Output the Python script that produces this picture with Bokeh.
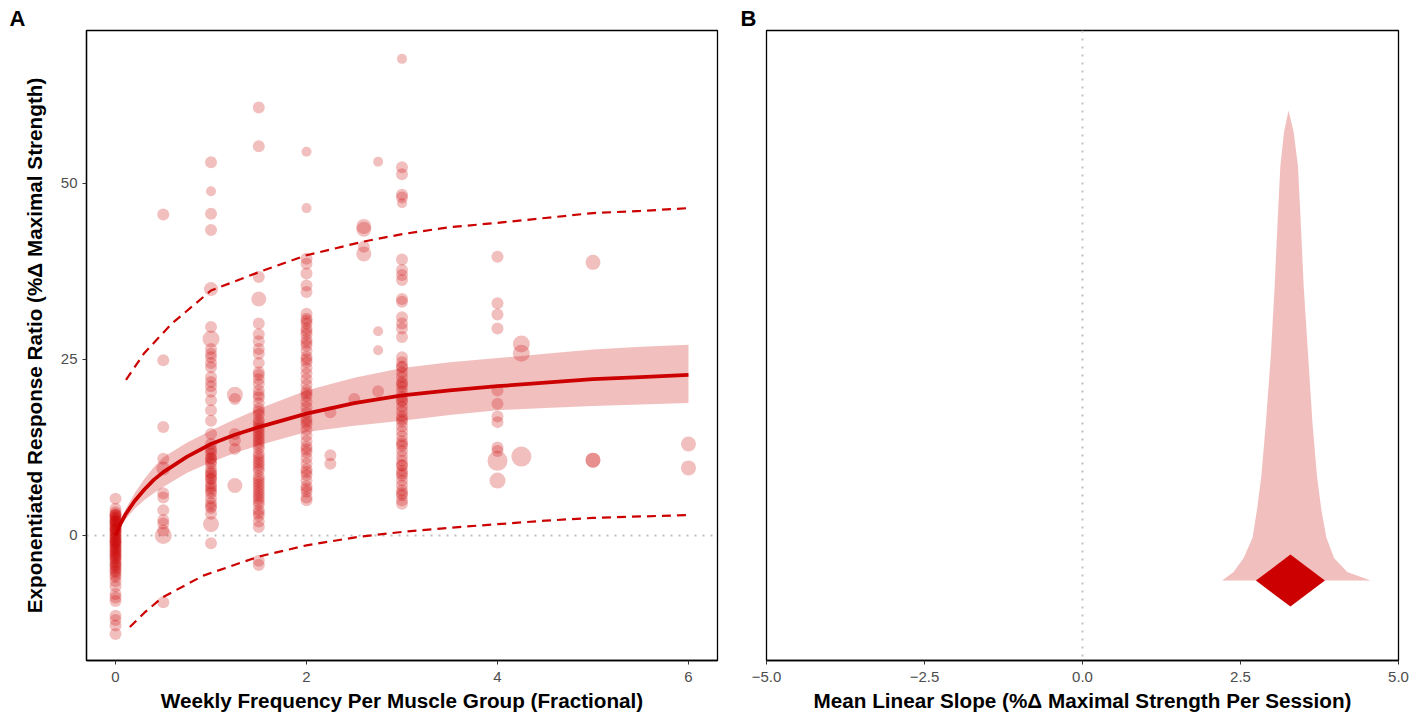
from bokeh.plotting import figure
from bokeh.layouts import row
from bokeh.models import Range1d, Span, FixedTicker
from bokeh.embed import file_html
from bokeh.resources import INLINE

RED = "#CC0000"
FONT = "Liberation Sans"

# ---------------- Panel A data ----------------
# regular-size observations per frequency column
col_0 = [5.2, 3.8, 3.3, 2.8, 2.4, 2.0, 1.6, 1.2, 0.8, 0.4, 0.0, -0.4, -0.8, -1.2, -1.6, -2.0,
         -2.4, -2.8, -3.2, -3.7, -4.2, -4.7, -5.2, -5.9, -6.5, -7.2, -8.3, -8.8, -9.3, -11.4,
         -12.0, -12.8, -14.0, 2.0, 1.0, 0.2, -1.0, -2.2, -3.0, -4.0, -0.6, 1.4, 2.6,
         3.0, 2.2, 1.8, 0.6, -0.2, -1.4, -1.8, -2.6, -3.4, -4.4, -5.0, -5.6, 0.9, -0.9, 2.9]
col_05 = [45.6, 24.9, 15.4, 10.9, 6.0, 5.4, 3.6, 2.2, 1.7, 0.7, -9.5]
col_1 = [53.0, 45.7, 43.4, 29.6, 26.5, 25.3, 23.9, 21.8, 20.4, 19.2, 17.8, 16.3, 14.4, 13.0,
         12.3, 11.6, 10.9, 10.2, 9.5, 8.8, 8.1, 7.4, 6.7, 6.0, 5.3, 4.6, 3.9, 3.1, -1.1,
         12.0, 10.5, 9.0, 8.0, 7.0, 25.8, 24.5, 22.5, 4.2, 11.0, 8.5, 6.3, 21.2]
col_125 = [19.4, 14.4, 13.5, 12.3]
col_15 = [60.8, 55.3, 36.7, 30.1, 28.6, 27.6, 26.5, 25.8, 24.5, 23.2, 22.2, 21.5, 20.6, 19.6,
          18.8, 18.0, 17.2, 16.4, 15.6, 14.8, 14.0, 13.2, 12.4, 11.6, 10.8, 10.0, 9.2, 8.4, 7.6,
          6.8, 6.0, 5.2, 4.4, 3.6, 2.8, 2.0, 1.2, -3.6, -4.2, 17.6, 16.0, 14.4, 12.8, 11.2, 9.6,
          8.0, 6.4, 4.8, 3.2, 20.0, 22.8, 15.2, 13.6, 10.4, 7.2, 5.6]
col_2 = [39.3, 38.6, 37.2, 35.5, 34.6, 31.5, 30.8, 30.1, 29.4, 28.6, 27.8, 27.0, 26.2, 25.4,
         24.6, 23.8, 23.0, 22.2, 21.4, 20.6, 19.8, 19.0, 18.2, 17.4, 16.6, 15.8, 15.0, 14.2, 13.4,
         12.6, 11.8, 11.0, 10.2, 9.4, 8.6, 7.8, 7.0, 6.2, 5.4, 5.0, 30.5, 29.0, 27.4, 25.0, 20.2,
         16.2, 12.2, 9.0, 6.6]
col_225 = [17.5, 11.4, 10.2]
col_25 = [19.4]
col_26 = [41.0]
col_275 = [20.5]
col_3 = [52.3, 51.3, 48.4, 48.0, 39.2, 37.7, 37.0, 36.3, 33.6, 33.2, 31.0, 30.1, 29.4, 28.2,
         25.3, 24.6, 23.9, 23.2, 22.5, 21.8, 21.1, 20.4, 19.7, 19.0, 18.3, 17.6, 16.9, 16.2, 15.5,
         14.8, 14.1, 13.4, 12.7, 12.0, 11.3, 10.6, 9.9, 9.2, 8.5, 7.8, 7.1, 6.4, 5.7, 5.0, 4.5,
         24.0, 21.5, 19.2, 16.5, 13.0, 10.0, 8.8, 6.0]
col_4 = [39.6, 33.0, 31.4, 29.4, 20.6, 18.7, 16.9, 16.1, 12.5, 12.0]

columns = [(0.0, col_0), (0.5, col_05), (1.0, col_1), (1.25, col_125), (1.5, col_15),
           (2.0, col_2), (2.25, col_225), (2.5, col_25), (2.6, col_26), (2.75, col_275),
           (3.0, col_3), (4.0, col_4)]

# small-weight observations
small_freq = [3.0, 2.0, 2.0, 2.75, 2.75, 2.75, 1.0, 3.0]
small_ratio = [67.7, 54.5, 46.5, 53.1, 29.0, 26.3, 48.9, 47.2]

# large-weight observations
big_freq = [0.5, 0.5, 1.0, 1.0, 1.0, 1.25, 1.25, 1.5, 2.6, 2.6, 2.6, 4.0, 4.0,
            4.25, 4.25, 4.25, 5.0, 5.0, 5.0, 6.0, 6.0]
big_ratio = [0.0, 9.5, 1.6, 27.9, 35.0, 20.0, 7.1, 33.6, 43.9, 43.5, 40.0, 10.6, 7.8,
             27.2, 25.9, 11.2, 38.8, 10.7, 10.7, 13.0, 9.6]
big_weight = [17, 14, 16, 17, 14, 16, 15, 15, 15, 15, 15, 20, 16,
              17, 17, 20, 15, 15, 15, 15, 15]

# fitted curve with confidence band
fit_x = [0, 0.05, 0.1, 0.2, 0.3, 0.4, 0.5, 0.75, 1, 1.25, 1.5, 2, 2.5, 3, 3.5, 4, 4.5, 5, 5.5, 6]
fit_y = [0, 1.6, 2.9, 4.9, 6.5, 7.9, 9.0, 11.2, 13.0, 14.3, 15.4, 17.3, 18.8, 19.9, 20.6,
         21.2, 21.7, 22.2, 22.5, 22.8]
ci_lo = [0, 1.2, 2.2, 3.8, 5.0, 6.0, 6.9, 8.9, 10.4, 11.7, 12.8, 14.7, 15.6, 16.3, 17.1,
         17.8, 18.1, 18.4, 18.6, 18.8]
ci_hi = [0, 2.0, 3.6, 6.0, 8.0, 9.7, 11.1, 13.2, 14.9, 16.5, 18.0, 20.6, 22.4, 23.8, 24.6,
         25.2, 25.8, 26.4, 26.8, 27.1]

# prediction interval
pi_hi_x = [0.11, 0.3, 0.59, 1.0, 1.5, 2.0, 2.58, 3.0, 3.5, 4.0, 4.5, 5.0, 5.5, 6.0]
pi_hi_y = [22.1, 25.9, 30.1, 34.8, 37.4, 39.8, 41.7, 42.8, 43.8, 44.4, 45.1, 45.8, 46.1, 46.5]
pi_lo_x = [0.15, 0.3, 0.49, 0.92, 1.5, 2.0, 2.54, 3.0, 3.5, 4.0, 4.5, 5.0, 5.5, 6.0]
pi_lo_y = [-13.0, -11.0, -8.8, -5.7, -3.0, -1.4, -0.2, 0.5, 1.1, 1.6, 2.1, 2.5, 2.7, 2.9]

a_xticks = [0, 2, 4, 6]
a_yticks = [0, 25, 50]

# ---------------- Panel B data ----------------
slope_x = [2.21, 2.39, 2.55, 2.69, 2.76, 2.83, 2.90, 2.98, 3.04, 3.09, 3.13, 3.19, 3.26,
           3.34, 3.41, 3.45, 3.50, 3.57, 3.64, 3.71, 3.78, 3.86, 3.98, 4.19, 4.56]
slope_density = [0, 0.018, 0.048, 0.091, 0.150, 0.223, 0.333, 0.479, 0.626, 0.772, 0.881,
                 0.955, 1.0, 0.955, 0.881, 0.772, 0.626, 0.479, 0.333, 0.223, 0.150, 0.091,
                 0.048, 0.018, 0]
mean_slope = 3.29
b_xticks = [-5.0, -2.5, 0.0, 2.5, 5.0]
b_xlabels = ["\u22125.0", "\u22122.5", "0.0", "2.5", "5.0"]

FRAME_H = 630


def style(p, panel_letter, letter_offset):
    p.outline_line_color = "black"
    p.outline_line_width = 1.3
    p.grid.visible = False
    p.background_fill_color = "white"
    p.border_fill_color = "white"
    p.title.text = panel_letter
    p.title.align = "left"
    p.title.offset = letter_offset
    p.title.standoff = 0
    p.title.text_font = FONT
    p.title.text_font_size = "22px"
    p.title.text_font_style = "bold"
    p.title.text_color = "black"
    for ax in p.axis:
        ax.axis_line_color = "black"
        ax.axis_line_width = 1.3
        ax.major_tick_line_color = "#333333"
        ax.major_tick_line_width = 1
        ax.major_tick_in = 0
        ax.major_tick_out = 4
        ax.minor_tick_line_color = None
        ax.major_label_text_font = FONT
        ax.major_label_text_font_size = "15px"
        ax.major_label_text_color = "#4D4D4D"
        ax.major_label_standoff = 7
        ax.axis_label_text_font = FONT
        ax.axis_label_text_font_size = "20.7px"
        ax.axis_label_text_font_style = "bold"
        ax.axis_label_text_color = "black"
        ax.axis_label_standoff = 4


# ---------------- Panel A ----------------
pA = figure(frame_width=631, frame_height=FRAME_H, output_backend="svg", toolbar_location=None,
            x_range=Range1d(-0.304, 6.304), y_range=Range1d(-17.76, 71.73),
            min_border_left=86, min_border_right=20, min_border_top=30, min_border_bottom=57)
style(pA, "A", -77)
pA.yaxis.major_label_standoff = 5
pA.yaxis.axis_label_standoff = 12
pA.xaxis.ticker = FixedTicker(ticks=a_xticks)
pA.yaxis.ticker = FixedTicker(ticks=a_yticks)
pA.xaxis.axis_label = "Weekly Frequency Per Muscle Group (Fractional)"
pA.yaxis.axis_label = "Exponentiated Response Ratio (%\u0394 Maximal Strength)"

pA.add_layout(Span(location=0, dimension="width", line_color="#BEBEBE", line_width=2,
                   line_dash="2 6", level="underlay"))

reg_x, reg_y = [], []
for fx, vals in columns:
    reg_x += [fx] * len(vals)
    reg_y += vals
pA.scatter(reg_x, reg_y, size=12, fill_color=RED, fill_alpha=0.25, line_color=None)
pA.scatter(small_freq, small_ratio, size=10, fill_color=RED, fill_alpha=0.25, line_color=None)
pA.scatter(big_freq, big_ratio, size=big_weight, fill_color=RED, fill_alpha=0.25, line_color=None)

pA.varea(x=fit_x, y1=ci_lo, y2=ci_hi, fill_color=RED, fill_alpha=0.25)
pA.line(fit_x, fit_y, line_color=RED, line_width=3.8)
pA.line(pi_hi_x, pi_hi_y, line_color=RED, line_width=2.2, line_dash="9 6")
pA.line(pi_lo_x, pi_lo_y, line_color=RED, line_width=2.2, line_dash="9 6")

# ---------------- Panel B ----------------
b_ylo, b_yhi = -0.170, 1.170
pB = figure(frame_width=632, frame_height=FRAME_H, output_backend="svg", toolbar_location=None,
            x_range=Range1d(-5, 5), y_range=Range1d(b_ylo, b_yhi),
            min_border_left=29, min_border_right=12, min_border_top=30, min_border_bottom=57)
style(pB, "B", -26)
pB.yaxis.visible = False
pB.xaxis.ticker = FixedTicker(ticks=b_xticks)
pB.xaxis.major_label_overrides = {t: l for t, l in zip(b_xticks, b_xlabels)}
pB.xaxis.axis_label = "Mean Linear Slope (%\u0394 Maximal Strength Per Session)"

pB.add_layout(Span(location=0, dimension="height", line_color="#BEBEBE", line_width=2,
                   line_dash="2 6", level="underlay"))
pB.varea(x=slope_x, y1=0, y2=slope_density, fill_color=RED, fill_alpha=0.25)

# diamond marker (screen-size 69 x 52 px) at the mean slope
dx = 34.5 * 10 / 632
dy = 26 * (b_yhi - b_ylo) / FRAME_H
pB.patch([mean_slope - dx, mean_slope, mean_slope + dx, mean_slope],
         [0, dy, 0, -dy], fill_color=RED, line_color=None)

layout = row(pA, pB)
open("out.html", "w").write(file_html(layout, INLINE))
